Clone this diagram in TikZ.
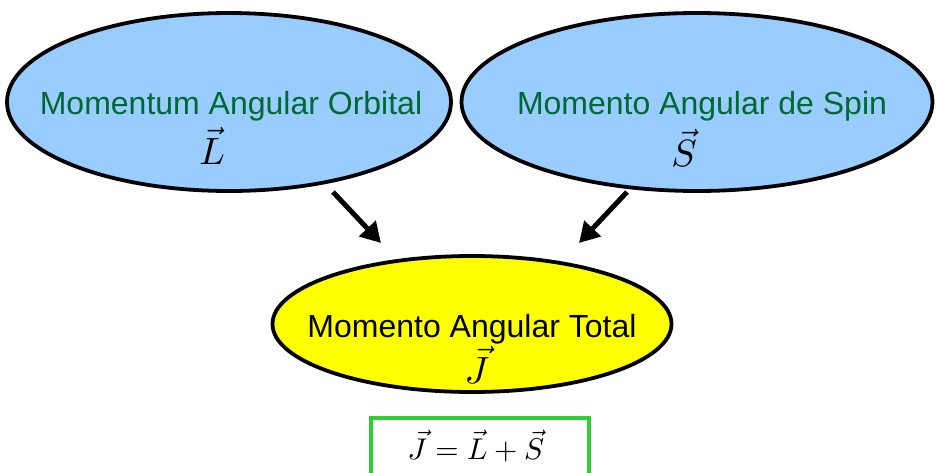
\documentclass[tikz,border=0pt]{standalone}
\usepackage{fontspec}
\setmainfont{Liberation Sans}
\usetikzlibrary{shapes.geometric,arrows.meta}
\definecolor{ellblue}{RGB}{153,204,255}
\definecolor{ellyellow}{RGB}{255,255,0}
\definecolor{txtgreen}{RGB}{0,105,50}
\definecolor{boxgreen}{RGB}{50,205,50}
\newcommand{\bigvec}[1]{\scalebox{3.8}{$\vec{#1}$}}
\tikzset{
  ell/.style={ellipse, draw=black, line width=3.8pt, inner sep=0pt},
  lbl/.style={font=\fontsize{32}{38}\selectfont, anchor=base, inner sep=0pt},
  vecsym/.style={inner sep=0pt},
  arr/.style={line width=5pt, -{Triangle[length=20pt,width=22pt]}},
}
\begin{document}
\begin{tikzpicture}[x=1pt,y=-1pt]
\clip (0,0) rectangle (936,472);
\useasboundingbox (0,0) rectangle (936,472);
\node[ell, fill=ellblue, minimum width=444pt, minimum height=178pt] (orb) at (229,102) {};
\node[ell, fill=ellblue, minimum width=471pt, minimum height=178pt] (spin) at (697,102) {};
\node[ell, fill=ellyellow, minimum width=399pt, minimum height=136pt] (tot) at (472,324) {};
\node[lbl, text=txtgreen] (orbt) at (231,114) {Momentum Angular Orbital};
\node[vecsym] (orbL) at (212,146) {\bigvec{L}};
\node[lbl, text=txtgreen] (spint) at (702,114) {Momento Angular de Spin};
\node[vecsym] (spinS) at (684,148) {\bigvec{S}};
\node[lbl, text=black] (tott) at (472,337) {Momento Angular Total};
\node[vecsym] (totJ) at (477,365) {\bigvec{J}};
\node[draw=boxgreen, line width=3.5pt, minimum width=218pt, minimum height=80pt, anchor=north, inner sep=0pt] (eqbox) at (480,416) {};
\node[inner sep=0pt] (eq) at (476,446) {\scalebox{3.0}{$\vec{J}=\vec{L}+\vec{S}$}};
\coordinate (a1s) at (333,192);
\coordinate (a1e) at (381,243);
\coordinate (a2s) at (627,192);
\coordinate (a2e) at (579,243);
\draw[arr] (a1s) -- (a1e);
\draw[arr] (a2s) -- (a2e);
\end{tikzpicture}
\end{document}
